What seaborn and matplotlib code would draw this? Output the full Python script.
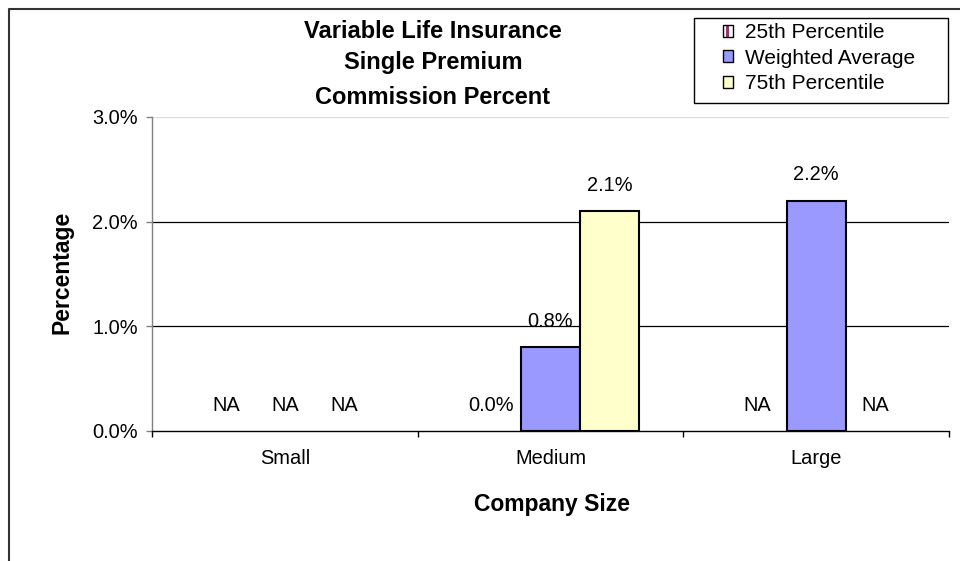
import numpy as np
import pandas as pd
import matplotlib
matplotlib.use("Agg")
import matplotlib.pyplot as plt
import seaborn as sns
from matplotlib.patches import Patch, Rectangle
from matplotlib.lines import Line2D

# ---------------- data ----------------
categories = ["Small", "Medium", "Large"]
series = ["25th Percentile", "Weighted Average", "75th Percentile"]
p25_values = [np.nan, 0.0, np.nan]
wavg_values = [np.nan, 0.8, 2.2]
p75_values = [np.nan, 2.1, np.nan]
y_ticks = [0, 1, 2, 3]
y_tick_labels = ["0.0%", "1.0%", "2.0%", "3.0%"]
title_lines = ["Variable Life Insurance", "Single Premium", "Commission Percent"]
x_title = "Company Size"
y_title = "Percentage"

colors = {"25th Percentile": "#993366",
          "Weighted Average": "#9999FF",
          "75th Percentile": "#FFFFCC"}

values_by_series = [p25_values, wavg_values, p75_values]
rows = []
for s, vals in zip(series, values_by_series):
    for c, v in zip(categories, vals):
        rows.append({"Company Size": c, "series": s, "value": v})
df = pd.DataFrame(rows)

# ---------------- figure ----------------
plt.rcParams["font.family"] = ["Liberation Sans", "DejaVu Sans"]
W, H = 960, 561
fig = plt.figure(figsize=(W / 100, H / 100), dpi=100)
ax = fig.add_axes([152 / W, 1 - 431 / H, (949 - 152) / W, (431 - 117) / H])

group_width = 2 / 3
sns.barplot(data=df, x="Company Size", y="value", hue="series",
            order=categories, hue_order=series, palette=colors,
            width=group_width, gap=0, saturation=1, errorbar=None,
            edgecolor="black", linewidth=1.5, legend=False, ax=ax)

# zero-height bars show no outline
for p in ax.patches:
    if p.get_height() == 0:
        p.set_linewidth(0)

ax.set_xlim(-0.5, 2.5)
ax.set_ylim(0, 3)

# value labels
fs = 14.4
n = len(series)
for hi, vals in enumerate(values_by_series):
    for ci, v in enumerate(vals):
        x = ci + (hi - (n - 1) / 2) * group_width / n
        if np.isnan(v):
            txt, y = "NA", 0.0
        else:
            txt, y = f"{v:.1f}%", v
        ax.annotate(txt, (x, y), xytext=(0, 18.7), textcoords="offset points",
                    ha="center", va="center", fontsize=fs, color="black")

# axes styling
ax.set_yticks(y_ticks)
ax.set_yticklabels(y_tick_labels, fontsize=fs)
ax.tick_params(axis="y", length=4.3, width=1, color="#808080", pad=5.8, direction="out")
ax.set_xticks(range(len(categories)))
ax.set_xticklabels(categories, fontsize=fs)
ax.tick_params(axis="x", which="major", length=0, pad=13)
ax.set_xticks([-0.5, 0.5, 1.5, 2.5], minor=True)
ax.tick_params(axis="x", which="minor", length=4.3, width=1, color="black", direction="out")

ax.set_axisbelow(True)
ax.yaxis.grid(True, color="black", linewidth=0.9)
gls = ax.yaxis.get_gridlines()
gls[0].set_visible(False)
gls[-1].set_color("#dddddd")
ax.xaxis.grid(False)

for side in ["right", "top"]:
    ax.spines[side].set_visible(False)
ax.spines["left"].set_color("#808080")
ax.spines["left"].set_linewidth(1.0)
ax.spines["bottom"].set_color("black")
ax.spines["bottom"].set_linewidth(1.0)

ax.set_xlabel(x_title, fontsize=16.5, fontweight="bold")
ax.set_ylabel(y_title, fontsize=16.5, fontweight="bold")
ax.xaxis.label.set_va("center")
ax.yaxis.label.set_va("center")
ax.xaxis.set_label_coords((552 - 152) / (949 - 152), (431 - 505) / (431 - 117))
ax.yaxis.set_label_coords((62 - 152) / (949 - 152), (431 - 272) / (431 - 117))

# title
for line, yc in zip(title_lines, [31, 63, 97]):
    fig.text(433 / W, 1 - yc / H, line, ha="center", va="center",
             fontsize=17, fontweight="bold")

# legend
class P25Handler:
    def legend_artist(self, legend, orig_handle, fontsize, handlebox):
        x0, y0 = -handlebox.xdescent, -handlebox.ydescent
        w, h = handlebox.width, handlebox.height
        t = handlebox.get_transform()
        bg = Rectangle((x0, y0), w, h, facecolor="white", edgecolor="none", transform=t)
        stripe = Rectangle((x0 + w * 0.3, y0), w * 0.3, h,
                           facecolor=orig_handle.get_facecolor(), edgecolor="none", transform=t)
        border = Rectangle((x0, y0), w, h, facecolor="none", edgecolor="black", lw=1.0, transform=t)
        for a in (bg, stripe, border):
            handlebox.add_artist(a)
        return border

lfs = 15
handles = [Patch(facecolor=colors[s], edgecolor="black", linewidth=1.0) for s in series]
leg = ax.legend(handles, series, loc="upper left",
                bbox_to_anchor=(723 / W, 1 - 23 / H), bbox_transform=fig.transFigure,
                frameon=False, borderpad=0, borderaxespad=0, fontsize=lfs,
                handlelength=0.5, handleheight=0.5, handletextpad=0.55,
                labelspacing=0.32, handler_map={handles[0]: P25Handler()})

fig.add_artist(Rectangle((694 / W, 1 - 103 / H), (948 - 694) / W, (103 - 18) / H,
                         transform=fig.transFigure, fill=False, edgecolor="black", lw=1.0))

# chart-area border (cropped)
fig.add_artist(Line2D([8.5 / W, 8.5 / W, 1.01], [-0.01, 1 - 8.5 / H, 1 - 8.5 / H],
                      transform=fig.transFigure, color="#333333", lw=1.5))

fig.savefig("out.png", dpi=100)
